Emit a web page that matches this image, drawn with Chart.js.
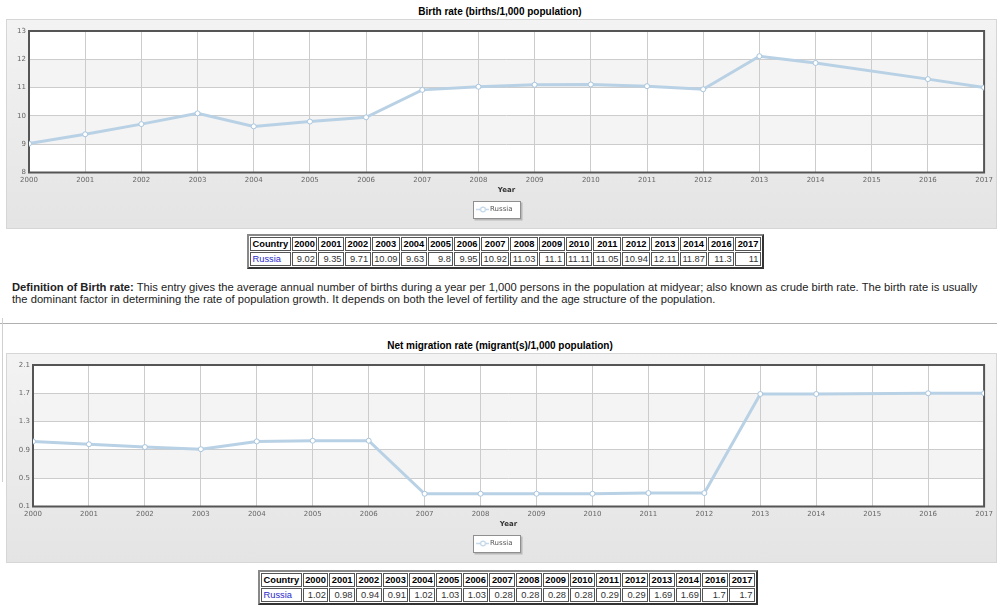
<!DOCTYPE html>
<html>
<head>
<meta charset="utf-8">
<script src="https://cdn.jsdelivr.net/npm/chart.js@4.4.1/dist/chart.umd.min.js"></script>
<style>
  body { margin: 0; background: #fff; font-family: "Liberation Sans", Arial, sans-serif; }
  .page { position: relative; width: 1000px; height: 607px; overflow: hidden; }
  .ctitle { position: absolute; left: 0; width: 1000px; text-align: center; font-weight: bold; font-size: 10px; color: #000; }
  .box { position: absolute; left: 6px; width: 989px; height: 208px; border: 1px solid #d6d6d6;
         background: linear-gradient(#f3f3f3, #e4e4e4); }
  .box canvas { position: absolute; left: 0; top: 0; }
  table.data { position: absolute; border-collapse: separate; border-spacing: 1px; border: 2px outset #888;
               font-size: 9.3px; font-family: "Liberation Sans", Arial, sans-serif; }
  table.data td, table.data th { border: 1px solid #555; padding: 0 1.5px; height: 12px; line-height: 12px; }
  table.data th { font-weight: bold; color: #000; }
  table.data td { text-align: right; color: #333; }
  table.data td.c { text-align: left; color: #2a2acc; }
  .def { position: absolute; left: 12px; top: 281px; width: 990px; white-space: nowrap; font-size: 11.2px; line-height: 12px; color: #222; }
  .hr { position: absolute; left: 0; top: 323px; width: 997px; height: 1px; background: #b0b0b0; }
  .vr { position: absolute; left: 2px; top: 318px; width: 1px; height: 164px; background: #d0d0d0; }
</style>
</head>
<body>
<div class="page">
  <div class="ctitle" style="top:6px">Birth rate (births/1,000 population)</div>
  <div class="box" style="top:19px"><canvas id="c1" width="989" height="208"></canvas></div>
  <table class="data" id="tb1" style="left:247px; top:234px"></table>
  <div class="def"><b>Definition of Birth rate:</b> This entry gives the average annual number of births during a year per 1,000 persons in the population at midyear; also known as crude birth rate. The birth rate is usually<br>the dominant factor in determining the rate of population growth. It depends on both the level of fertility and the age structure of the population.</div>
  <div class="hr"></div>
  <div class="vr"></div>
  <div class="ctitle" style="top:340px">Net migration rate (migrant(s)/1,000 population)</div>
  <div class="box" style="top:353px"><canvas id="c2" width="989" height="208"></canvas></div>
  <table class="data" id="tb2" style="left:258px; top:570px"></table>
</div>
<script>
const country = 'Russia';
const years = [2000, 2001, 2002, 2003, 2004, 2005, 2006, 2007, 2008, 2009, 2010, 2011, 2012, 2013, 2014, 2016, 2017];
const birthRate = [9.02, 9.35, 9.71, 10.09, 9.63, 9.8, 9.95, 10.92, 11.03, 11.1, 11.11, 11.05, 10.94, 12.11, 11.87, 11.3, 11];
const migrationRate = [1.02, 0.98, 0.94, 0.91, 1.02, 1.03, 1.03, 0.28, 0.28, 0.28, 0.28, 0.29, 0.29, 1.69, 1.69, 1.7, 1.7];
const birthTicks = [8, 9, 10, 11, 12, 13];
const migrationTicks = [0.1, 0.5, 0.9, 1.3, 1.7, 2.1];

const lineColor = '#b9d1e5';
const tickFont = { family: 'DejaVu Sans', size: 7 };

// little line-and-circle marker for the legend
const marker = document.createElement('canvas');
marker.width = 13; marker.height = 7;
(function () {
  const m = marker.getContext('2d');
  m.strokeStyle = '#c6dbec'; m.lineWidth = 1.5;
  m.beginPath(); m.moveTo(0, 3.5); m.lineTo(13, 3.5); m.stroke();
  m.fillStyle = '#fff'; m.strokeStyle = '#a9c6de'; m.lineWidth = 1;
  m.beginPath(); m.arc(6.5, 3.5, 2.5, 0, Math.PI * 2); m.fill(); m.stroke();
})();

// alternating bands, white legend box, dark frame round the plot
const frame = {
  id: 'frame',
  beforeDraw(chart) {
    const { ctx, chartArea: a } = chart;
    const y = chart.scales.y;
    const ticks = chart.options.plugins.frame.ticks;
    ctx.save();
    ctx.fillStyle = '#fff';
    ctx.fillRect(a.left, a.top, a.right - a.left, a.bottom - a.top);
    ctx.fillStyle = '#f4f4f4';
    for (let i = 0; i < ticks.length - 1; i++) {
      if ((ticks.length - 2 - i) % 2 === 1) {
        const top = y.getPixelForValue(ticks[i + 1]);
        const bot = y.getPixelForValue(ticks[i]);
        ctx.fillRect(a.left, top, a.right - a.left, bot - top);
      }
    }
    const hb = chart.legend.legendHitBoxes[0];
    if (hb) {
      const cx = hb.left + hb.width / 2, cy = hb.top + hb.height / 2;
      const w = 47, h = 17;
      const x0 = Math.round(cx - w / 2) + 0.5, y0 = Math.round(cy - h / 2) + 0.5;
      ctx.fillStyle = '#b8b8b8';
      ctx.fillRect(x0 + 1, y0 + 1, w + 1, h + 1);
      ctx.fillStyle = '#fff';
      ctx.fillRect(x0, y0, w, h);
      ctx.strokeStyle = '#8f8f8f';
      ctx.lineWidth = 1;
      ctx.strokeRect(x0, y0, w, h);
    }
    ctx.restore();
  },
  beforeDatasetsDraw(chart) {
    const { ctx, chartArea: a } = chart;
    ctx.save();
    ctx.strokeStyle = '#555';
    ctx.lineWidth = 2;
    ctx.strokeRect(a.left, a.top, a.right - a.left, a.bottom - a.top);
    ctx.restore();
  }
};

function makeChart(id, values, ticks, yWidth) {
  const points = years.map((yr, i) => ({ x: yr, y: values[i] }));
  return new Chart(document.getElementById(id), {
    type: 'line',
    data: {
      datasets: [{
        label: country,
        data: points,
        borderColor: lineColor,
        borderWidth: 3,
        pointRadius: 2.5,
        pointBorderWidth: 1,
        pointBackgroundColor: '#fff',
        pointBorderColor: '#a9c6de',
        tension: 0
      }]
    },
    options: {
      responsive: false,
      animation: false,
      layout: { padding: { top: 11, right: 11, bottom: 5, left: 0 } },
      scales: {
        x: {
          type: 'linear',
          min: years[0],
          max: years[years.length - 1],
          afterBuildTicks(scale) {
            const t = [];
            for (let v = years[0]; v <= years[years.length - 1]; v++) t.push({ value: v });
            scale.ticks = t;
          },
          afterFit(scale) { scale.height = 26; },
          grid: { color: '#cccccc', drawTicks: false },
          border: { display: false },
          ticks: { font: tickFont, color: '#666', padding: 3, maxRotation: 0, autoSkip: false,
                   callback: v => String(v) },
          title: { display: true, text: 'Year', font: { family: 'DejaVu Sans', size: 7, weight: 'bold' },
                   color: '#333', padding: { top: 1, bottom: 4 } }
        },
        y: {
          min: ticks[0],
          max: ticks[ticks.length - 1],
          afterBuildTicks(scale) { scale.ticks = ticks.map(v => ({ value: v })); },
          afterFit(scale) { scale.width = yWidth; },
          grid: { color: '#cccccc', drawTicks: false },
          border: { display: false },
          ticks: { font: tickFont, color: '#666', padding: 3, callback: v => String(v) }
        }
      },
      plugins: {
        frame: { ticks: ticks },
        tooltip: { enabled: false },
        legend: {
          position: 'bottom',
          labels: { usePointStyle: true, pointStyle: marker, boxWidth: 13, boxHeight: 7,
                    font: { family: 'DejaVu Sans', size: 7 }, color: '#555', padding: 7.5 }
        }
      }
    },
    plugins: [frame]
  });
}

function fillTable(id, values) {
  const tb = document.getElementById(id);
  const head = '<tr><th>Country</th>' + years.map(y => '<th>' + y + '</th>').join('') + '</tr>';
  const row = '<tr><td class="c">' + country + '</td>' + values.map(v => '<td>' + v + '</td>').join('') + '</tr>';
  tb.innerHTML = head + row;
}

makeChart('c1', birthRate, birthTicks, 22);
makeChart('c2', migrationRate, migrationTicks, 26);
fillTable('tb1', birthRate);
fillTable('tb2', migrationRate);
</script>
</body>
</html>
